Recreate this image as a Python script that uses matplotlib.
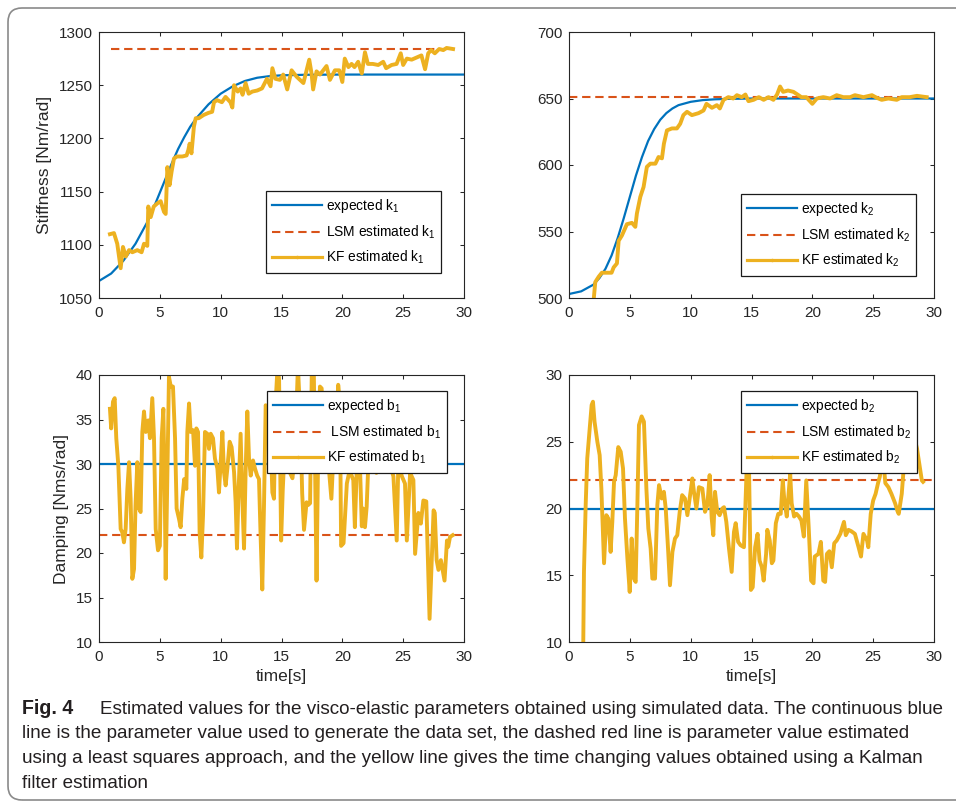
import numpy as np
import matplotlib.pyplot as plt
from matplotlib.lines import Line2D
from matplotlib.patches import FancyBboxPatch
from matplotlib.transforms import IdentityTransform

plt.rcParams['font.family'] = ['Liberation Sans', 'DejaVu Sans']
plt.rcParams['mathtext.fontset'] = 'custom'
plt.rcParams['mathtext.rm'] = 'Liberation Sans'
plt.rcParams['mathtext.it'] = 'Liberation Sans:italic'
plt.rcParams['mathtext.bf'] = 'Liberation Sans:bold'

AZUL = '#0072BD'
ROJO = '#D95319'
AMARILLO = '#EDB120'

# ---- k1 ----
t_esperado_k1 = [0, 1, 2, 3, 4, 4.5, 5, 5.5, 6, 6.5, 7, 7.5, 8, 9, 10, 11, 12, 13, 14, 15, 17, 20, 30]
esperado_k1 = [1066, 1073, 1085, 1101, 1122, 1135, 1149, 1163, 1177, 1190, 1201, 1211, 1219, 1232, 1242,
               1249, 1254, 1257, 1258.5, 1259.3, 1259.8, 1260, 1260]
t_lsm_k1 = [1.0, 29.1]
lsm_k1 = [1283.7, 1283.7]
t_kf_k1 = [0.9, 1.23, 1.5, 1.78, 1.97, 2.2, 2.47, 2.74, 3.15, 3.5, 3.7, 3.97, 4.05, 4.25, 4.5, 4.8, 5.07,
           5.34, 5.48, 5.62, 5.8, 5.97, 6.16, 6.4, 6.85, 7.2, 7.34, 7.45, 7.6, 7.8, 7.95, 8.2, 8.6, 9.0,
           9.3, 9.45, 9.7, 10.1, 10.4, 10.8, 10.96, 11.1, 11.4, 11.64, 11.8, 12.05, 12.3, 12.6, 13.0,
           13.4, 13.8, 14.1, 14.25, 14.5, 14.87, 15.14, 15.47, 15.83, 16.24, 16.8, 17.28, 17.47, 17.6,
           17.88, 18.16, 18.43, 18.7, 18.98, 19.39, 19.75, 20.0, 20.2, 20.5, 20.76, 21.0, 21.3, 21.6,
           21.86, 22.1, 22.5, 22.95, 23.36, 23.6, 24.05, 24.46, 24.8, 25.0, 25.3, 25.7, 26.1, 26.5,
           26.8, 27.06, 27.3, 27.6, 27.96, 28.3, 28.57, 29.1]
kf_k1 = [1110, 1111, 1101, 1078, 1098, 1089, 1095, 1093, 1095, 1093, 1101, 1099, 1136, 1126, 1136, 1139,
         1141, 1131, 1129, 1173, 1156, 1169, 1181, 1183, 1183, 1184, 1189, 1195, 1186, 1211, 1219, 1219,
         1222, 1224, 1225, 1234, 1236, 1234, 1239, 1234, 1229, 1250, 1244, 1247, 1241, 1252, 1242, 1244,
         1245, 1247, 1256, 1249, 1266, 1256, 1255, 1260, 1246, 1264, 1258, 1252, 1274, 1261, 1246,
         1263, 1260, 1264, 1268, 1255, 1264, 1264, 1253, 1275, 1267, 1270, 1267, 1272, 1261, 1281,
         1270, 1270, 1269, 1272, 1266, 1269, 1270, 1280, 1269, 1275, 1274, 1276, 1278, 1265, 1280,
         1283, 1280, 1284, 1283, 1285, 1284]

# ---- k2 ----
t_esperado_k2 = [0, 1, 2, 2.5, 3, 3.5, 4, 4.5, 5, 5.5, 6, 6.5, 7, 7.5, 8, 8.5, 9, 10, 11, 12, 13, 15, 20, 30]
esperado_k2 = [503, 505, 510, 515, 522, 532, 545, 560, 576, 592, 606, 618, 627, 634, 639, 642.5, 645,
               647.5, 648.8, 649.4, 649.7, 650, 650, 650]
t_lsm_k2 = [0, 29.5]
lsm_k2 = [651.3, 651.3]
t_kf_k2 = [2.0, 2.16, 2.44, 2.7, 3.1, 3.5, 3.67, 3.94, 4.08, 4.35, 4.76, 5.17, 5.45, 5.58, 5.86, 6.13,
           6.4, 6.68, 7.1, 7.36, 7.64, 7.8, 8.05, 8.46, 8.87, 9.14, 9.4, 9.7, 10.1, 10.65, 11.06, 11.3,
           11.75, 12.15, 12.4, 12.7, 13.1, 13.5, 13.8, 14.2, 14.5, 14.75, 15.17, 15.6, 16.0, 16.4, 16.8,
           17.1, 17.35, 17.6, 18.0, 18.45, 18.86, 19.1, 19.5, 20.0, 20.37, 20.9, 21.46, 22.0, 22.55,
           23.1, 23.5, 24.2, 24.9, 25.3, 25.7, 26.25, 26.94, 27.35, 28.0, 28.6, 29.4]
kf_k2 = [496, 512, 516, 519, 519, 519, 523, 526, 543, 547, 555.5, 556.5, 553.5, 563.5, 576, 583.5,
         598.6, 601, 601, 606, 605, 616, 626, 627.5, 627.5, 631, 637.5, 640, 637.5, 639, 641, 646,
         643, 645, 642.5, 649, 651, 650, 652.5, 651, 653, 648, 649, 651, 649, 651, 649, 653, 659, 655,
         656, 655, 652.5, 651, 651, 646, 650, 651, 650, 652.5, 651, 651, 652.5, 651, 652.5, 650.5,
         649, 650, 649, 651, 651, 652, 651]

# ---- b1 ----
t_esperado_b1 = [0, 30]
esperado_b1 = [30, 30]
t_lsm_b1 = [0, 30]
lsm_b1 = [22, 22]
t_kf_b1 = [0.9, 1.0, 1.15, 1.29, 1.42, 1.59, 1.78, 1.92, 2.05, 2.19, 2.33, 2.47, 2.6, 2.74, 2.88, 3.0,
           3.15, 3.29, 3.42, 3.56, 3.7, 3.84, 4.05, 4.19, 4.38, 4.52, 4.66, 4.85, 5.0, 5.15, 5.29, 5.4,
           5.48, 5.62, 5.75, 5.9, 6.08, 6.25, 6.38, 6.58, 6.71, 6.85, 7.0, 7.18, 7.26, 7.4, 7.53, 7.73,
           7.89, 8.0, 8.14, 8.27, 8.41, 8.55, 8.71, 8.9, 9.04, 9.18, 9.37, 9.53, 9.73, 9.86, 10.0,
           10.14, 10.27, 10.41, 10.55, 10.74, 10.9, 11.1, 11.23, 11.34, 11.45, 11.64, 11.78, 11.92,
           12.05, 12.19, 12.33, 12.47, 12.66, 12.82, 13.0, 13.15, 13.29, 13.42, 13.56, 13.7, 13.9,
           14.1, 14.25, 14.38, 14.52, 14.68, 14.8, 14.97, 15.1, 15.3, 15.5, 15.7, 15.9, 16.1, 16.35,
           16.55, 16.7, 16.85, 17.06, 17.2, 17.35, 17.5, 17.65, 17.88, 18.0, 18.16, 18.3, 18.5, 18.8,
           19.1, 19.3, 19.55, 19.66, 19.8, 19.9, 20.1, 20.37, 20.6, 20.9, 21.03, 21.2, 21.4, 21.6,
           21.7, 21.86, 22.0, 22.15, 22.4, 22.6, 22.8, 23.0, 23.3, 23.6, 23.9, 24.2, 24.47, 24.6, 24.9,
           25.15, 25.3, 25.57, 25.84, 25.98, 26.25, 26.45, 26.66, 26.9, 27.07, 27.17, 27.35, 27.5,
           27.6, 27.75, 27.9, 28.1, 28.3, 28.4, 28.6, 28.7, 28.85, 29.07]
kf_b1 = [36.2, 34.0, 37.0, 37.4, 32.9, 29.8, 22.7, 22.3, 21.2, 22.7, 27.2, 30.2, 26.1, 17.1, 18.2, 25.3,
         30.2, 25.0, 24.6, 33.6, 35.9, 33.6, 34.9, 32.9, 37.4, 32.9, 22.7, 20.3, 20.8, 32.9, 36.2, 27.2,
         17.1, 29.1, 39.8, 38.7, 38.7, 32.9, 25.0, 23.8, 22.9, 26.1, 28.3, 27.2, 33.6, 36.8, 33.6, 33.8,
         29.8, 34.0, 33.6, 22.3, 19.5, 24.2, 33.6, 33.4, 31.7, 33.4, 32.9, 30.6, 29.5, 26.8, 30.2,
         33.6, 29.1, 27.6, 29.5, 32.5, 31.9, 29.1, 25.7, 20.5, 26.1, 33.4, 26.1, 20.5,
         29.1, 35.9, 30.6, 28.7, 30.4, 29.5, 28.7, 28.3, 21.6, 15.9, 25.3, 36.6, 35.5,
         32.9, 26.8, 26.1, 37.0, 41.0, 39.5, 21.4, 27.0, 33.0, 31.0, 29.0, 28.4, 31.0, 41.0,
         35.0, 26.7, 22.6, 25.7, 25.4, 25.6, 41.5, 41.0, 16.9, 30.0, 38.7, 38.5, 33.0, 31.0,
         26.1, 32.0, 34.0, 38.9, 37.0, 20.8, 21.1, 27.8, 29.3, 28.2, 22.9, 30.0, 32.0, 23.0,
         25.0, 22.9, 25.2, 30.5, 33.0, 29.3, 29.0, 31.0, 33.0, 30.5, 30.0, 28.6, 21.4, 30.0, 28.6,
         27.8, 21.4, 29.0, 28.2, 19.9, 24.5, 23.3, 25.9, 25.8, 17.3, 12.6, 19.2, 24.8,
         24.5, 19.2, 18.1, 19.2, 17.7, 16.9, 21.4, 20.7, 21.8, 22.0]

# ---- b2 ----
t_esperado_b2 = [0, 30]
esperado_b2 = [20, 20]
t_lsm_b2 = [0, 30]
lsm_b2 = [22.1, 22.1]
t_kf_b2 = [1.12, 1.23, 1.37, 1.5, 1.7, 1.86, 1.97, 2.1, 2.33, 2.52, 2.66, 2.88, 3.07, 3.23, 3.42, 3.56,
           3.7, 3.84, 4.05, 4.25, 4.44, 4.6, 4.8, 4.99, 5.15, 5.34, 5.48, 5.62, 5.75, 5.97, 6.16, 6.36,
           6.52, 6.71, 6.85, 7.07, 7.26, 7.4, 7.62, 7.8, 7.95, 8.14, 8.3, 8.5, 8.71, 8.9, 9.1, 9.3,
           9.53, 9.73, 9.92, 10.14, 10.27, 10.47, 10.68, 10.96, 11.18, 11.37, 11.56, 11.73, 11.86,
           12.0, 12.19, 12.38, 12.6, 12.74, 12.93, 13.15, 13.37, 13.56, 13.7, 13.9, 14.1, 14.38, 14.6,
           14.78, 14.95, 15.1, 15.3, 15.5, 15.66, 15.85, 16.0, 16.2, 16.3, 16.5, 16.67, 16.8, 17.0,
           17.2, 17.4, 17.57, 17.7, 17.9, 18.18, 18.3, 18.5, 18.7, 18.9, 19.1, 19.3, 19.5, 19.7, 19.9,
           20.1, 20.2, 20.5, 20.7, 20.9, 21.05, 21.2, 21.4, 21.6, 21.8, 22.0, 22.3, 22.6, 22.75,
           22.97, 23.2, 23.5, 23.8, 24.0, 24.2, 24.5, 24.6, 24.8, 25.0, 25.2, 25.4, 25.55, 25.8, 26.0,
           26.25, 26.5, 26.8, 27.0, 27.1, 27.35, 27.5, 27.8, 28.2, 28.6, 28.85, 29.0, 29.1]
kf_b2 = [5.0, 15.25, 20.25, 23.75, 26.0, 27.75, 28.0, 26.5, 25.0, 24.0, 21.5, 15.9, 19.5, 19.25, 16.75,
         19.0, 22.0, 22.5, 24.6, 24.25, 23.0, 19.25, 16.25, 13.75, 17.75, 14.75, 14.5, 20.25, 26.25,
         26.9, 26.5, 21.5, 18.5, 17.0, 14.75, 14.75, 20.25, 21.75, 20.75, 21.25, 20.0, 17.0, 14.25,
         16.75, 17.75, 18.0, 19.75, 21.0, 20.75, 19.5, 20.75, 22.25, 21.25, 20.0, 21.6, 21.5, 19.75,
         20.25, 22.5, 19.25, 18.0, 21.25, 19.75, 19.5, 20.0, 20.1, 19.0, 17.0, 15.25, 18.25, 18.9,
         17.5, 17.25, 17.1, 22.9, 24.0, 13.9, 14.1, 17.1, 18.1, 16.1, 15.6, 14.6, 16.6, 18.4, 17.6,
         15.9, 16.1, 18.9, 19.6, 19.6, 22.1, 20.6, 19.4, 22.6, 20.4, 19.4, 19.6, 19.4, 19.1, 17.9,
         22.1, 18.6, 14.6, 14.4, 16.4, 16.6, 17.5, 14.6, 14.5, 16.6, 16.8, 15.6, 17.4, 17.6, 18.1,
         19.0, 18.0, 18.4, 18.3, 18.1, 17.1, 16.4, 18.1, 17.6, 17.1, 19.6, 20.6, 21.1, 21.9, 22.4,
         24.0, 21.9, 21.6, 21.1, 20.4, 19.8, 19.6, 21.1, 22.9, 25.5, 26.0, 24.5, 23.0, 22.1, 22.0]

fig = plt.figure(figsize=(9.56, 8.08), dpi=100)

# marco gris redondeado alrededor de la figura (en pixeles)
marco = FancyBboxPatch((8, 8), 1000, 792, boxstyle='round,pad=0,rounding_size=14',
                       transform=IdentityTransform(), fill=False, edgecolor='#8a8a8a', linewidth=1.2)
fig.patches.append(marco)


def dibujar(pos, t_esp, v_esp, t_lsm, v_lsm, t_kf, v_kf, ylim, yticks, nombre, ylabel, xlabel, pos_leyenda):
    ax = fig.add_axes(pos)
    ax.plot(t_esp, v_esp, color=AZUL, linewidth=1.6)
    ax.plot(t_lsm, v_lsm, color=ROJO, linewidth=1.5, dashes=(4, 2.3))
    ax.plot(t_kf, v_kf, color=AMARILLO, linewidth=2.8)
    ax.set_xlim(0, 30)
    ax.set_ylim(*ylim)
    ax.set_xticks([0, 5, 10, 15, 20, 25, 30])
    ax.set_yticks(yticks)
    ax.tick_params(direction='in', top=True, right=True, length=3, width=0.75,
                   labelsize=11, colors='#262626')
    ax.tick_params(axis='x', pad=6)
    ax.tick_params(axis='y', pad=4.5)
    for s in ax.spines.values():
        s.set_color('#262626')
        s.set_linewidth(0.8)
    if ylabel:
        ax.set_ylabel(ylabel, fontsize=12.5, color='#262626', labelpad=5)
    if xlabel:
        ax.set_xlabel(xlabel, fontsize=12.5, color='#262626', labelpad=3)
    sub = nombre[1]
    manejadores = [Line2D([], [], color=AZUL, linewidth=1.6),
                   Line2D([], [], color=ROJO, linewidth=1.5, dashes=(4, 2.3)),
                   Line2D([], [], color=AMARILLO, linewidth=2.3, marker='.', markersize=3)]
    etiquetas = ['expected ' + nombre[0] + '$_' + sub + '$',
                 ('LSM estimated ' if nombre[0] == 'k' or sub == '2' else ' LSM estimated ') + nombre[0] + '$_' + sub + '$',
                 'KF estimated ' + nombre[0] + '$_' + sub + '$']
    ley = ax.legend(manejadores, etiquetas, loc='upper left', bbox_to_anchor=pos_leyenda,
                    bbox_transform=fig.transFigure, borderaxespad=0, fancybox=False, framealpha=1,
                    edgecolor='#1a1a1a', fontsize=9.9, handlelength=3.6, handletextpad=0.3,
                    labelspacing=0.6, borderpad=0.45)
    ley.get_frame().set_linewidth(0.9)
    return ax


izq1, izq2, ancho = 99 / 956, 569 / 956, 365 / 956
arriba_y, abajo_y = 1 - 298 / 808, 1 - 642 / 808
alto = 266 / 808

dibujar([izq1, arriba_y, ancho, alto], t_esperado_k1, esperado_k1, t_lsm_k1, lsm_k1, t_kf_k1, kf_k1,
        (1050, 1300), [1050, 1100, 1150, 1200, 1250, 1300], 'k1', 'Stiffness [Nm/rad]', None,
        (266 / 956, 1 - 191 / 808))
dibujar([izq2, arriba_y, ancho, alto], t_esperado_k2, esperado_k2, t_lsm_k2, lsm_k2, t_kf_k2, kf_k2,
        (500, 700), [500, 550, 600, 650, 700], 'k2', None, None,
        (741 / 956, 1 - 194 / 808))
dibujar([izq1, abajo_y, ancho, 267 / 808], t_esperado_b1, esperado_b1, t_lsm_b1, lsm_b1, t_kf_b1, kf_b1,
        (10, 40), [10, 15, 20, 25, 30, 35, 40], 'b1', 'Damping [Nms/rad]', 'time[s]',
        (267 / 956, 1 - 391 / 808))
dibujar([izq2, abajo_y, ancho, 267 / 808], t_esperado_b2, esperado_b2, t_lsm_b2, lsm_b2, t_kf_b2, kf_b2,
        (10, 30), [10, 15, 20, 25, 30], 'b2', None, 'time[s]',
        (741 / 956, 1 - 391 / 808))

# pie de figura
tam_pie = 13.6
lineas_pie = ['Estimated values for the visco-elastic parameters obtained using simulated data. The continuous blue',
              'line is the parameter value used to generate the data set, the dashed red line is parameter value estimated',
              'using a least squares approach, and the yellow line gives the time changing values obtained using a Kalman',
              'filter estimation']
fig.text(22 / 956, 1 - 709 / 808, 'Fig. 4', fontsize=tam_pie + 0.5, fontweight='bold',
         va='center', color='#231f20')
fig.text(943 / 956, 1 - 709 / 808, lineas_pie[0], fontsize=tam_pie, ha='right', va='center', color='#231f20')
for i, linea in enumerate(lineas_pie[1:]):
    fig.text(22 / 956, 1 - (734 + 24.5 * i) / 808, linea, fontsize=tam_pie,
             va='center', color='#231f20')

fig.savefig('out.png', dpi=100)
